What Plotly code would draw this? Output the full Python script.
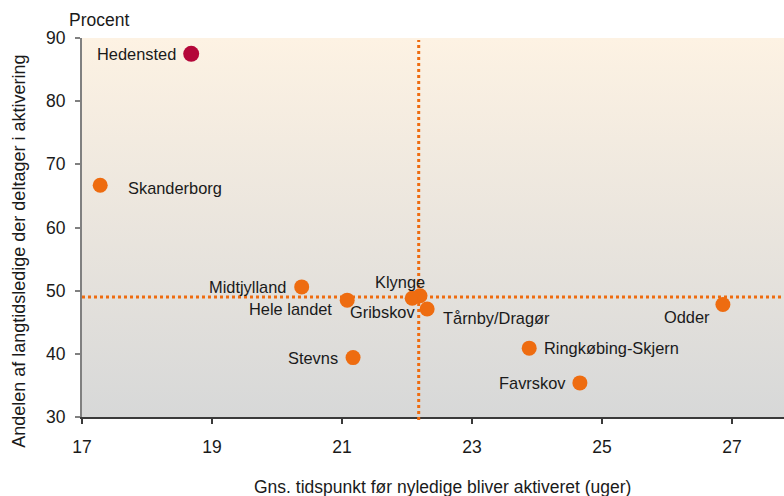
import base64

import plotly.graph_objects as go

# data
kommuner = ["Hedensted", "Skanderborg", "Midtjylland", "Hele landet", "Klynge",
            "Gribskov", "Tårnby/Dragør", "Stevns", "Odder", "Ringkøbing-Skjern", "Favrskov"]
uger = [18.68, 17.28, 20.38, 21.08, 22.2, 22.08, 22.31, 21.17, 26.86, 23.88, 24.66]
andel = [87.5, 66.7, 50.6, 48.5, 49.2, 48.8, 47.1, 39.4, 47.8, 40.9, 35.4]
snit_uger = 22.18
snit_andel = 49.0
x_ticks = [17, 19, 21, 23, 25, 27]
y_ticks = [30, 40, 50, 60, 70, 80, 90]

ORANGE = "#ee6c10"
RED = "#b4073a"
FONT = "Liberation Sans, Arial, sans-serif"
TXT = "#1a1a1a"

# label placement per point: xanchor, yanchor, xshift, yshift
label_pos = {
    "Hedensted": ("right", "middle", -13, 0),
    "Skanderborg": ("left", "middle", 26, -3),
    "Midtjylland": ("right", "middle", -14, 0),
    "Hele landet": ("right", "middle", -13, -9),
    "Klynge": ("right", "bottom", 7, 3),
    "Gribskov": ("right", "middle", 5, -14),
    "Tårnby/Dragør": ("left", "middle", 14, -9),
    "Stevns": ("right", "middle", -13, 0),
    "Odder": ("right", "middle", -11, -12),
    "Ringkøbing-Skjern": ("left", "middle", 13, 0),
    "Favrskov": ("right", "middle", -12, 0),
}

colors = [RED if k == "Hedensted" else ORANGE for k in kommuner]
sizes = [16 if k == "Hedensted" else 15 for k in kommuner]

fig = go.Figure(
    go.Scatter(
        x=uger,
        y=andel,
        mode="markers",
        marker=dict(color=colors, size=sizes, opacity=1, line=dict(width=0)),
        hoverinfo="text",
        text=kommuner,
        showlegend=False,
    )
)

for k, xv, yv in zip(kommuner, uger, andel):
    xa, ya, xs, ys = label_pos[k]
    fig.add_annotation(
        x=xv, y=yv, text=k, showarrow=False,
        xanchor=xa, yanchor=ya, xshift=xs, yshift=ys,
        font=dict(size=16.4, color=TXT, family=FONT),
    )

# dotted average lines
dot = dict(color=ORANGE, width=3, dash="dot")
fig.add_shape(type="line", xref="x", yref="paper", x0=snit_uger, x1=snit_uger,
              y0=-0.008, y1=0.995, line=dot, layer="above")
fig.add_shape(type="line", xref="paper", yref="y", x0=0, x1=1,
              y0=snit_andel, y1=snit_andel, line=dot, layer="above")

# gradient background
svg = (
    '<svg xmlns="http://www.w3.org/2000/svg" width="100" height="100" preserveAspectRatio="none">'
    '<defs><linearGradient id="g" x1="0" y1="0" x2="0" y2="1">'
    '<stop offset="0" stop-color="#fdf2e3"/><stop offset="1" stop-color="#d7d8d8"/>'
    '</linearGradient></defs><rect width="100" height="100" fill="url(#g)"/></svg>'
)
fig.add_layout_image(
    source="data:image/svg+xml;base64," + base64.b64encode(svg.encode()).decode(),
    xref="x domain", yref="y domain", x=0, y=1, sizex=1, sizey=1,
    xanchor="left", yanchor="top", sizing="stretch", layer="below",
)

fig.add_annotation(xref="paper", yref="paper", x=-0.022, y=1.048, text="Procent",
                   showarrow=False, xanchor="left", yanchor="middle",
                   font=dict(size=17.5, color=TXT, family=FONT))
fig.add_annotation(xref="paper", yref="paper", x=-0.09, y=0.438,
                   text="Andelen af langtidsledige der deltager i aktivering",
                   textangle=-90, showarrow=False, xanchor="center", yanchor="middle",
                   font=dict(size=18, color=TXT, family=FONT))
fig.add_annotation(xref="paper", yref="paper", x=0.514, y=-0.185,
                   text="Gns. tidspunkt før nyledige bliver aktiveret (uger)",
                   showarrow=False, xanchor="center", yanchor="middle",
                   font=dict(size=17.5, color=TXT, family=FONT))

fig.update_layout(
    width=784,
    height=496,
    margin=dict(l=82, r=0, t=38, b=79),
    paper_bgcolor="white",
    plot_bgcolor="rgba(0,0,0,0)",
    font=dict(family=FONT, size=17.5, color=TXT),
    showlegend=False,
)
fig.update_xaxes(
    range=[17, 27.8], tickvals=x_ticks, showgrid=False, zeroline=False,
    showline=True, linecolor="#3a3a3a", linewidth=1.5,
    ticks="outside", ticklen=5, tickcolor="#3a3a3a", tickwidth=1.5,
    ticklabelstandoff=8,
)
fig.update_yaxes(
    range=[30, 90], tickvals=y_ticks, showgrid=False, zeroline=False,
    showline=True, linecolor="#808080", linewidth=2,
    ticks="outside", ticklen=5, tickcolor="#808080", tickwidth=1.5,
    ticklabelstandoff=6,
)

# the page body has a default 8px margin; drop it so the figure fills the window
fig.write_html("out.html", config={"displayModeBar": False},
               post_script="document.body.style.margin='0';")
